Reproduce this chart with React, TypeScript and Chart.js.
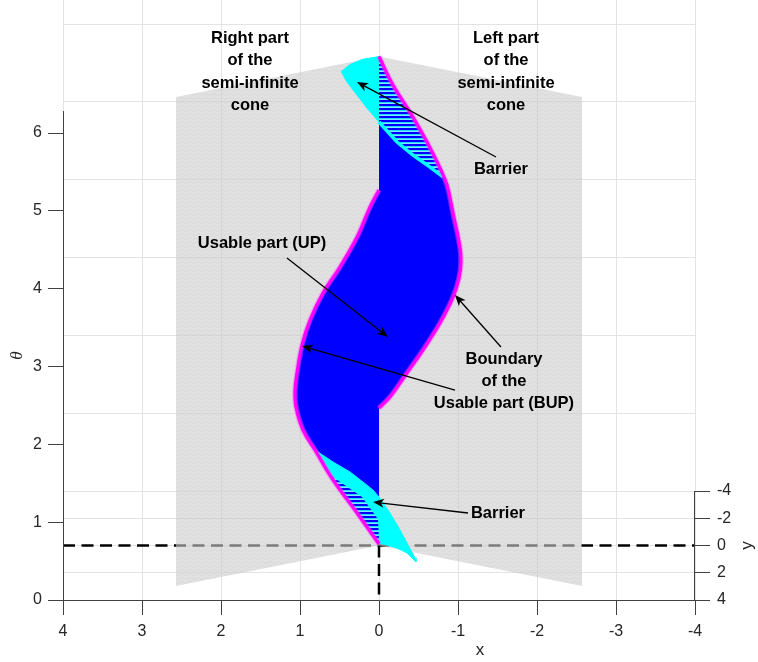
import React, { useEffect, useRef } from "react";
import { Chart, registerables } from "chart.js";

Chart.register(...registerables);

// ---- axes ----
const X_TICKS = [4, 3, 2, 1, 0, -1, -2, -3, -4];
const THETA_TICKS = [0, 1, 2, 3, 4, 5, 6];
const Y_TICKS = [-4, -2, 0, 2, 4];
const X_LIMITS = [-4, 4];
const Y_LIMITS = [-4, 4];
const THETA_LIMITS = [0, 2 * Math.PI];

// ---- semi-infinite cone: rim of one half (the other half mirrors it in x) ----
const CONE_RIM_X = 2.57;
const CONE_RIM_Y = 2.97;

// ---- boundary of the usable part, points (x, θ) on the cone surface ----
const BUP_RIGHT_X = [0, 0.278, 0.582, 0.81, 0.962, 1.051, 1.063, 1.038, 0.975, 0.873, 0.709, 0.494, 0.278, 0.114, 0];
const BUP_RIGHT_T = [0.02, 0.474, 0.96, 1.391, 1.678, 1.992, 2.213, 2.427, 2.773, 3.074, 3.388, 3.679, 4.02, 4.372, 4.568];
const BUP_LEFT_X = [0, -0.139, -0.354, -0.557, -0.772, -0.937, -1.013, -1.038, -1.025, -0.937, -0.861, -0.772, -0.608, -0.392, -0.177, 0];
const BUP_LEFT_T = [1.767, 1.936, 2.289, 2.625, 3.015, 3.382, 3.642, 3.853, 4.043, 4.461, 4.806, 5.007, 5.308, 5.649, 5.953, 6.283];

// ---- barriers ----
const BAR_TOP_R_X = [0, 0.203, 0.367, 0.456, 0.468, 0.405, 0.278, 0.152, 0];
const BAR_TOP_R_T = [6.283, 6.29, 6.255, 6.2, 6.166, 6.038, 5.845, 5.652, 5.442];
const BAR_TOP_L_X = [0, -0.177, -0.392, -0.608, -0.772, -0.81, -0.646, -0.43, -0.228, 0];
const BAR_TOP_L_T = [6.283, 5.953, 5.649, 5.308, 5.007, 4.9, 4.994, 5.105, 5.231, 5.442];
const BAR_TOP_EDGE_X = [0, -0.228, -0.43, -0.646, -0.81];
const BAR_TOP_EDGE_T = [5.442, 5.231, 5.105, 4.994, 4.9];
const BAR_BOT_R_X = [0.81, 0.582, 0.367, 0.203, 0.076, 0, 0, 0.278, 0.582, 0.81];
const BAR_BOT_R_T = [1.391, 1.191, 1.019, 0.857, 0.728, 0.623, 0.02, 0.474, 0.96, 1.391];
const BAR_BOT_BAND_X = [0.62, 0.215, 0.013, 0, 0, 0.278, 0.582, 0.62];
const BAR_BOT_BAND_T = [1.031, 0.667, 0.34, 0.07, 0.02, 0.474, 0.96, 1.031];
const BAR_BOT_L_X = [0, -0.139, -0.266, -0.367, -0.456, -0.468, -0.354, -0.228, -0.101, 0];
const BAR_BOT_L_T = [0.623, 0.446, 0.253, 0.081, -0.068, -0.117, -0.024, 0.014, 0.027, 0.032];

// ---- annotations (x, height on the θ axis) ----
const NOTE_LINES = [
  ["Right part", "of the", "semi-infinite", "cone"],
  ["Left part", "of the", "semi-infinite", "cone"],
  ["Barrier"],
  ["Usable part (UP)"],
  ["Boundary", "of the", "Usable part (BUP)"],
  ["Barrier"],
];
const NOTE_X = [1.633, -1.608, -1.544, 1.481, -1.582, -1.506];
const NOTE_H = [6.784, 6.784, 5.538, 4.587, 2.807, 1.118];

const ARROW_FROM_X = [-1.481, 1.165, -1.544, -0.962, -1.127];
const ARROW_FROM_H = [5.692, 4.394, 3.251, 2.698, 1.118];
const ARROW_TO_X = [0.278, -0.114, -0.962, 0.975, 0.076];
const ARROW_TO_H = [6.656, 3.379, 3.919, 3.264, 1.259];

// ---- view: y recedes upward on the page ----
const VIEW_DEPTH = 0.175; // height shift per unit of y toward the back
const VIEW_TOP = 7.71; // top of the plotted height range
const CONE_SLOPE = CONE_RIM_Y / CONE_RIM_X;

const FONT = '"Liberation Sans", Arial, Helvetica, sans-serif';
const GRID = "#e3e3e3";
const AXIS = "#404040";
const TICK_TEXT = "#262626";

type Pt = { x: number; y: number };

const project = (x: number, y: number, t: number): Pt => ({
  x,
  y: t + (Y_LIMITS[1] - y) * VIEW_DEPTH,
});
const onCone = (xs: number[], ts: number[]): Pt[] =>
  xs.map((x, i) => project(x, CONE_SLOPE * Math.abs(x), ts[i]));

function conePattern(ctx: CanvasRenderingContext2D) {
  const t = document.createElement("canvas");
  t.width = 8;
  t.height = 4;
  const g = t.getContext("2d")!;
  g.fillStyle = "rgba(205,205,205,0.6)";
  g.fillRect(0, 0, 8, 4);
  g.strokeStyle = "rgba(150,150,150,0.1)";
  g.lineWidth = 1;
  g.beginPath();
  g.moveTo(0, 3.5);
  g.lineTo(8, 1.5);
  g.stroke();
  return ctx.createPattern(t, "repeat")!;
}

function hatchPattern(ctx: CanvasRenderingContext2D) {
  const t = document.createElement("canvas");
  t.width = 4;
  t.height = 4;
  const g = t.getContext("2d")!;
  g.fillStyle = "#0000ff";
  g.fillRect(0, 0, 4, 4);
  g.fillStyle = "#22d4ff";
  g.fillRect(0, 2, 4, 1);
  g.fillStyle = "#80eaff";
  g.fillRect(0, 3, 4, 1);
  return ctx.createPattern(t, "repeat")!;
}

function drawArrow(ctx: CanvasRenderingContext2D, x1: number, y1: number, x2: number, y2: number) {
  const dx = x2 - x1;
  const dy = y2 - y1;
  const len = Math.hypot(dx, dy);
  const ux = dx / len;
  const uy = dy / len;
  const L = 11;
  const W = 4.5;
  const bx = x2 - ux * L;
  const by = y2 - uy * L;
  ctx.beginPath();
  ctx.moveTo(x1, y1);
  ctx.lineTo(x2 - ux * L * 0.6, y2 - uy * L * 0.6);
  ctx.stroke();
  ctx.beginPath();
  ctx.moveTo(x2, y2);
  ctx.lineTo(bx - uy * W, by + ux * W);
  ctx.lineTo(x2 - ux * L * 0.72, y2 - uy * L * 0.72);
  ctx.lineTo(bx + uy * W, by - ux * W);
  ctx.closePath();
  ctx.fill();
}

const decor = {
  id: "decor",
  afterDraw(chart: any) {
    const { ctx, scales } = chart;
    const sx = scales.x;
    const sh = scales.h;
    const sy = scales.yd;
    ctx.save();

    // front θ axis and right floor (y) axis
    ctx.strokeStyle = AXIS;
    ctx.lineWidth = 1;
    const xl = Math.round(sx.getPixelForValue(X_LIMITS[1])) + 0.5;
    ctx.beginPath();
    ctx.moveTo(xl, sh.getPixelForValue(THETA_LIMITS[0]));
    ctx.lineTo(xl, sh.getPixelForValue(THETA_LIMITS[1]));
    ctx.stroke();
    const xr = Math.round(sx.getPixelForValue(X_LIMITS[0])) - 0.5;
    ctx.beginPath();
    ctx.moveTo(xr, sy.getPixelForValue(Y_LIMITS[0]));
    ctx.lineTo(xr, sy.getPixelForValue(Y_LIMITS[1]));
    ctx.stroke();

    // axis titles
    ctx.fillStyle = TICK_TEXT;
    ctx.textAlign = "center";
    ctx.textBaseline = "middle";
    ctx.font = `17px ${FONT}`;
    ctx.fillText("x", sx.getPixelForValue(-1.28), chart.chartArea.bottom + 50);
    ctx.save();
    ctx.translate(xr + 53, sy.getPixelForValue(0));
    ctx.rotate(-Math.PI / 2);
    ctx.fillText("y", 0, 0);
    ctx.restore();
    ctx.save();
    ctx.translate(18, sh.getPixelForValue(Math.PI));
    ctx.rotate(-Math.PI / 2);
    ctx.font = `italic 17px "Liberation Serif", "DejaVu Serif", serif`;
    ctx.fillText("θ", 0, 0);
    ctx.restore();

    // arrows
    ctx.strokeStyle = "#000";
    ctx.fillStyle = "#000";
    ctx.lineWidth = 1.3;
    ARROW_FROM_X.forEach((_, i) => {
      drawArrow(
        ctx,
        sx.getPixelForValue(ARROW_FROM_X[i]),
        sh.getPixelForValue(ARROW_FROM_H[i]),
        sx.getPixelForValue(ARROW_TO_X[i]),
        sh.getPixelForValue(ARROW_TO_H[i])
      );
    });

    // notes
    ctx.font = `bold 16.5px ${FONT}`;
    ctx.fillStyle = "#000";
    const lh = 22.3;
    NOTE_LINES.forEach((lines, i) => {
      const cx = sx.getPixelForValue(NOTE_X[i]);
      const cy = sh.getPixelForValue(NOTE_H[i]);
      lines.forEach((s, k) => {
        ctx.fillText(s, cx, cy + (k - (lines.length - 1) / 2) * lh);
      });
    });
    ctx.restore();
  },
};

// fixed box sizes so the plot area spans the full canvas height above the x axis
const fitBox = (w: number | null, h: number | null) => (s: any) => {
  if (w !== null) s.width = w;
  if (h !== null) s.height = h;
  s.paddingTop = 0;
  s.paddingBottom = 0;
  s.paddingLeft = 0;
  s.paddingRight = 0;
};

export default function App() {
  const ref = useRef<HTMLCanvasElement>(null);

  useEffect(() => {
    const canvas = ref.current!;
    const ctx = canvas.getContext("2d")!;
    const grey = conePattern(ctx);
    const hatch = hatchPattern(ctx);

    const series = (data: Pt[], extra: any) => ({
      data,
      xAxisID: "x",
      yAxisID: "h",
      pointRadius: 0,
      pointHoverRadius: 0,
      tension: 0,
      fill: false,
      borderWidth: 0,
      borderColor: "rgba(0,0,0,0)",
      ...extra,
    });

    const T0 = THETA_LIMITS[0];
    const T1 = THETA_LIMITS[1];
    const dashed = { borderColor: "#000", borderWidth: 2.5, borderDash: [12, 6.5], order: 20 };
    const cyan = { fill: "shape", backgroundColor: "#00ffff", borderColor: "#00ffff", borderWidth: 1, order: 17 };
    const hatched = { fill: "shape", backgroundColor: hatch, order: 16 };
    const blue = { fill: "shape", backgroundColor: "#0000ff", borderColor: "#0000ff", borderWidth: 1, tension: 0.4, order: 18 };
    const glow = { borderColor: "rgba(255,80,255,0.4)", borderWidth: 5.5, tension: 0.4, order: 14 };
    const magenta = { borderColor: "#ff00ff", borderWidth: 3.2, tension: 0.4, order: 13 };

    const chart = new Chart(canvas, {
      type: "line",
      data: {
        datasets: [
          series([project(X_LIMITS[1], 0, T0), project(X_LIMITS[0], 0, T0)], dashed),
          series([project(0, 0, T0), project(0, Y_LIMITS[1], T0)], dashed),
          series(
            [project(0, 0, T0), project(CONE_RIM_X, CONE_RIM_Y, T0), project(CONE_RIM_X, CONE_RIM_Y, T1), project(0, 0, T1)],
            { fill: "shape", backgroundColor: grey, order: 19 }
          ),
          series(
            [project(0, 0, T0), project(-CONE_RIM_X, CONE_RIM_Y, T0), project(-CONE_RIM_X, CONE_RIM_Y, T1), project(0, 0, T1)],
            { fill: "shape", backgroundColor: grey, order: 19 }
          ),
          series(onCone(BUP_RIGHT_X, BUP_RIGHT_T), blue),
          series(onCone(BUP_LEFT_X, BUP_LEFT_T), blue),
          series(onCone(BAR_TOP_R_X, BAR_TOP_R_T), cyan),
          series(onCone(BAR_BOT_R_X, BAR_BOT_R_T), cyan),
          series(onCone(BAR_BOT_L_X, BAR_BOT_L_T), cyan),
          series(onCone(BAR_TOP_L_X, BAR_TOP_L_T), hatched),
          series(onCone(BAR_BOT_BAND_X, BAR_BOT_BAND_T), hatched),
          series(onCone(BAR_TOP_EDGE_X, BAR_TOP_EDGE_T), { borderColor: "#00ffff", borderWidth: 3.5, order: 15 }),
          series(onCone(BUP_RIGHT_X, BUP_RIGHT_T), glow),
          series(onCone(BUP_LEFT_X, BUP_LEFT_T), glow),
          series(onCone(BUP_RIGHT_X, BUP_RIGHT_T), magenta),
          series(onCone(BUP_LEFT_X, BUP_LEFT_T), magenta),
        ],
      },
      options: {
        animation: false,
        responsive: false,
        devicePixelRatio: 1,
        events: [],
        layout: { padding: 0 },
        plugins: { legend: { display: false }, tooltip: { enabled: false } },
        scales: {
          x: {
            type: "linear",
            position: "bottom",
            reverse: true,
            min: X_LIMITS[0],
            max: X_LIMITS[1],
            afterBuildTicks: (s: any) => {
              s.ticks = X_TICKS.map((value) => ({ value }));
            },
            afterFit: fitBox(null, 62),
            ticks: {
              color: TICK_TEXT,
              font: { family: FONT, size: 16 },
              padding: 7,
              autoSkip: false,
              maxRotation: 0,
              callback: (v: any) => String(v),
            },
            grid: { color: GRID, lineWidth: 1, tickLength: 15, tickColor: AXIS },
            border: { display: true, color: AXIS, width: 1 },
          },
          h: {
            type: "linear",
            position: "left",
            min: 0,
            max: VIEW_TOP,
            afterBuildTicks: (s: any) => {
              s.ticks = THETA_TICKS.map((value) => ({ value }));
            },
            afterFit: fitBox(63, null),
            ticks: {
              color: TICK_TEXT,
              font: { family: FONT, size: 16 },
              padding: 6,
              autoSkip: false,
              callback: (v: any) => String(v),
            },
            grid: { drawOnChartArea: false, tickLength: 15, tickColor: AXIS },
            border: { display: false },
          },
          wall: {
            type: "linear",
            position: "left",
            min: -(Y_LIMITS[1] - Y_LIMITS[0]) * VIEW_DEPTH,
            max: VIEW_TOP - (Y_LIMITS[1] - Y_LIMITS[0]) * VIEW_DEPTH,
            afterBuildTicks: (s: any) => {
              s.ticks = THETA_TICKS.map((value) => ({ value }));
            },
            afterFit: fitBox(0, null),
            ticks: { display: false },
            grid: { color: GRID, lineWidth: 1, drawTicks: false },
            border: { display: false },
          },
          yd: {
            type: "linear",
            position: "right",
            reverse: true,
            min: Y_LIMITS[1] - VIEW_TOP / VIEW_DEPTH,
            max: Y_LIMITS[1],
            afterBuildTicks: (s: any) => {
              s.ticks = Y_TICKS.map((value) => ({ value }));
            },
            afterFit: fitBox(63, null),
            ticks: {
              color: TICK_TEXT,
              font: { family: FONT, size: 16 },
              padding: 7,
              autoSkip: false,
              callback: (v: any) => String(v),
            },
            grid: { color: GRID, lineWidth: 1, tickLength: 15, tickColor: AXIS },
            border: { display: false },
          },
        },
      } as any,
      plugins: [decor],
    });

    return () => chart.destroy();
  }, []);

  return (
    <div style={{ position: "fixed", left: 0, top: 0, width: 758, height: 662, background: "#fff" }}>
      <canvas ref={ref} width={758} height={662} style={{ display: "block" }} />
    </div>
  );
}
